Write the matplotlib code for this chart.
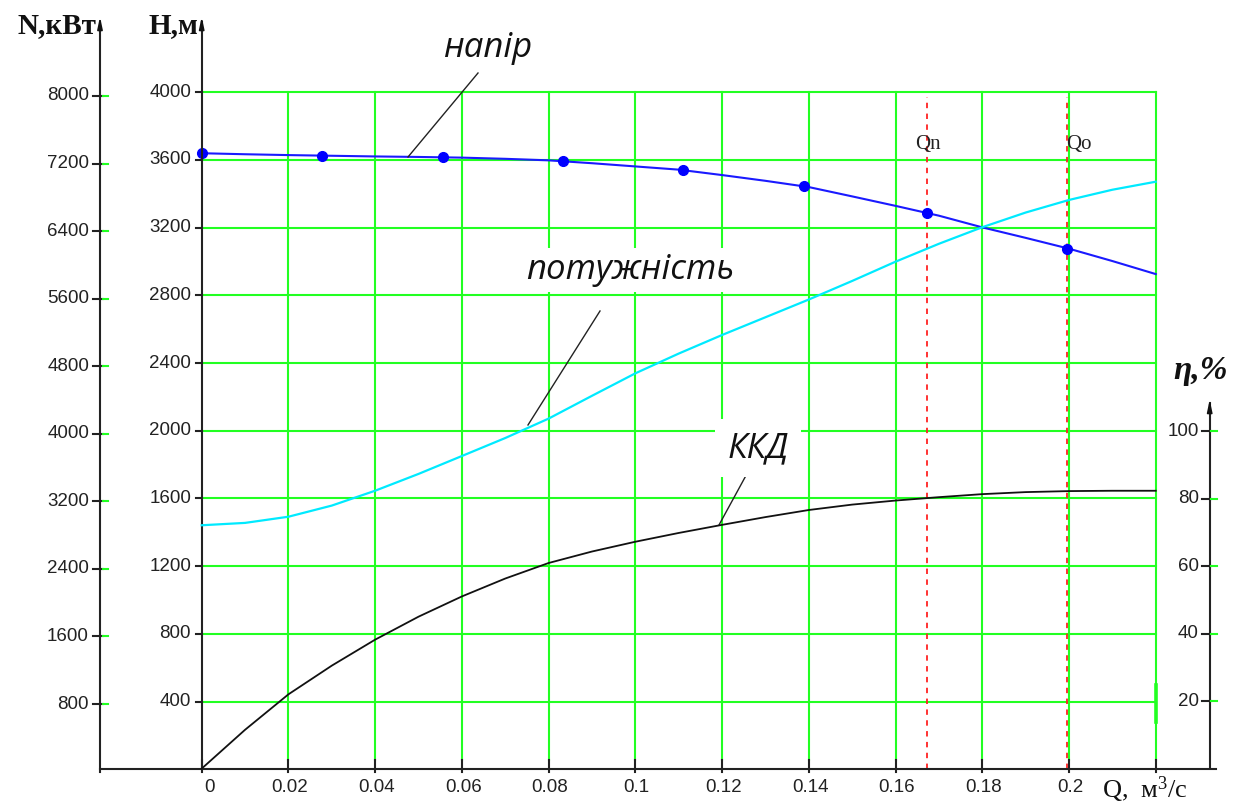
import matplotlib
matplotlib.use("Agg")
import matplotlib.pyplot as plt

plt.rcParams["mathtext.fontset"] = "custom"
plt.rcParams["mathtext.rm"] = "Liberation Serif"
plt.rcParams["mathtext.it"] = "Liberation Serif:italic"

# ---------------- data ----------------
q = [0.00, 0.01, 0.02, 0.03, 0.04, 0.05, 0.06, 0.07, 0.08, 0.09, 0.10, 0.11,
     0.12, 0.13, 0.14, 0.15, 0.16, 0.17, 0.18, 0.19, 0.20, 0.21, 0.22]
head_h = [3640, 3634, 3629, 3625, 3621, 3618, 3614, 3607, 3598, 3581, 3562, 3543,
          3511, 3477, 3440, 3385, 3329, 3271, 3202, 3140, 3076, 3003, 2926]
power_n = [2917, 2945, 3018, 3150, 3326, 3525, 3737, 3950, 4180, 4450, 4716, 4950,
           5170, 5380, 5590, 5810, 6038, 6250, 6446, 6620, 6769, 6890, 6985]
eff = [0, 11.5, 22, 30.5, 38.2, 45, 51, 56.3, 60.9, 64.3, 67.2, 69.8,
       72.2, 74.5, 76.6, 78.2, 79.4, 80.4, 81.3, 81.9, 82.2, 82.3, 82.3]

head_dot_q = [0.0, 0.0278, 0.0556, 0.0833, 0.1111, 0.1389, 0.1672, 0.1996]
head_dot_h = [3640, 3626, 3616, 3594, 3541, 3446, 3289, 3076]

q_n = 0.1672
q_o = 0.1996

x_ticks = [0, 0.02, 0.04, 0.06, 0.08, 0.10, 0.12, 0.14, 0.16, 0.18, 0.20, 0.22]
x_tick_labels = ["0", "0.02", "0.04", "0.06", "0.08", "0.1", "0.12", "0.14",
                 "0.16", "0.18", "0.2", ""]
h_ticks = [400, 800, 1200, 1600, 2000, 2400, 2800, 3200, 3600, 4000]
n_ticks = [800, 1600, 2400, 3200, 4000, 4800, 5600, 6400, 7200, 8000]
eff_ticks = [20, 40, 60, 80, 100]

# ---------------- figure ----------------
W, H = 1251, 809
fig = plt.figure(figsize=(W / 100, H / 100), dpi=100)
fig.patch.set_facecolor("white")

# pixel geometry of the reference
x0_px, xs = 201.7, 4336.5          # Q=0 pixel, px per unit Q
h0_up, hs = 809 - 769.3, 0.16925    # H=0 (from bottom), px per metre
n0_up, ns = 809 - 771.6, 0.08445    # N=0, px per kW
e0_up, es = 809 - 768.6, 3.376      # eta=0, px per %

ax = fig.add_axes([0, 0, 1, 1])
ax.set_xlim(-x0_px / xs, (W - x0_px) / xs)
ax.set_ylim(-h0_up / hs, (H - h0_up) / hs)
ax.axis("off")

axn = ax.twinx()
axn.set_ylim(-n0_up / ns, (H - n0_up) / ns)
axn.axis("off")
axe = ax.twinx()
axe.set_ylim(-e0_up / es, (H - e0_up) / es)
axe.axis("off")

def qx(px):
    return (px - x0_px) / xs

def hy(py):
    return (809 - py - h0_up) / hs

GREEN = "#22ff22"
tick_font = dict(family="Liberation Sans", fontsize=13.5, color="#222222")
serif = "Liberation Serif"

# grid
for xv in x_ticks[1:]:
    ax.plot([xv, xv], [hy(760), 4000], color=GREEN, lw=1.5, zorder=1)
for hv in h_ticks:
    ax.plot([0, 0.22], [hv, hv], color=GREEN, lw=1.5, zorder=1)
# green artefact segment at right edge
ax.plot([0.22, 0.22], [hy(722), hy(685)], color=GREEN, lw=2.6, zorder=1)

# axes lines
x_n_axis = qx(100)
x_e_axis = qx(1209.7)
ax.plot([x_n_axis, qx(1216)], [0, 0], color="#222222", lw=1.5, zorder=4)
ax.plot([0, 0], [0, hy(22)], color="#222222", lw=1.5, zorder=4)
ax.plot([x_n_axis, x_n_axis], [hy(772), hy(22)], color="#222222", lw=1.5, zorder=4)
ax.plot([x_e_axis, x_e_axis], [hy(768), hy(403)], color="#222222", lw=1.5, zorder=4)
# arrow heads
for xa, ytop in [(0, 14), (x_n_axis, 14), (x_e_axis, 397)]:
    ax.annotate("", xy=(xa, hy(ytop)), xytext=(xa, hy(ytop + 18)),
                arrowprops=dict(arrowstyle="-|>,head_width=0.15,head_length=0.7",
                                color="#111111", lw=1.2), zorder=5)

# x ticks and labels
for xv, lab in zip(x_ticks, x_tick_labels):
    ax.plot([xv, xv], [hy(772), hy(760)], color="#222222", lw=1.5, zorder=4)
    if lab:
        ax.text(xv + (qx(209) if lab == "0" else qx(203)), hy(788), lab,
                ha="center", va="center", **tick_font)

# H ticks
for hv in h_ticks:
    ax.plot([qx(196), 0], [hv, hv], color="#222222", lw=1.5, zorder=4)
    ax.text(qx(191), hv, f"{hv}", ha="right", va="center", **tick_font)

# N ticks
for nv in n_ticks:
    axn.plot([qx(93), qx(103)], [nv, nv], color="#222222", lw=1.5, zorder=4)
    axn.plot([qx(103), qx(108)], [nv, nv], color=GREEN, lw=1.5, zorder=4)
    axn.text(qx(89), nv, f"{nv}", ha="right", va="center", **tick_font)

# eta ticks
for ev in eff_ticks:
    axe.plot([qx(1202), qx(1211)], [ev, ev], color="#222222", lw=1.5, zorder=4)
    axe.plot([qx(1211), qx(1217)], [ev, ev], color=GREEN, lw=1.5, zorder=4)
    axe.text(qx(1199), ev, f"{ev}", ha="right", va="center", **tick_font)

# axis titles
ax.text(qx(96), hy(26), "N,кВт", ha="right", va="center",
        family=serif, fontsize=21, fontweight="bold", color="#111111")
ax.text(qx(198), hy(26), "H,м", ha="right", va="center",
        family=serif, fontsize=21, fontweight="bold", color="#111111")
ax.text(qx(1102), hy(790), "Q,  м$^{3}$/с", ha="left", va="center",
        family=serif, fontsize=19, color="#111111")
ax.text(qx(1201), hy(371), "η,%", ha="center", va="center",
        family=serif, fontsize=24, fontweight="bold", fontstyle="italic",
        color="#111111")

# red dashed Qn / Qo lines
for qv in (q_n, q_o):
    ax.plot([qv, qv], [0, hy(97)], color="#ff2222", lw=1.3,
            linestyle=(0, (3, 3)), zorder=2)
ax.text(qx(928), hy(145), "Qn", ha="center", va="center",
        family=serif, fontsize=15, color="#222222", zorder=6)
ax.text(qx(1079), hy(145), "Qo", ha="center", va="center",
        family=serif, fontsize=15, color="#222222", zorder=6)

# curves
ax.plot(q, head_h, color="#1a1aff", lw=1.5, zorder=3)
ax.plot(head_dot_q, head_dot_h, linestyle="none", marker="o", ms=7,
        color="#0000ff", zorder=3)
axn.plot(q, power_n, color="#00eaff", lw=1.6, zorder=3)
axe.plot(q, eff, color="#111111", lw=1.3, zorder=3)

# curve labels with leader lines
lab_font = dict(family="Open Sans", fontstyle="italic", fontsize=25,
                color="#111111")
box = dict(boxstyle="square,pad=0.15", facecolor="white", edgecolor="none")
ax.plot([qx(478), qx(408)], [hy(73), hy(157)], color="#222222", lw=1.0, zorder=5)
ax.text(qx(488), hy(48), "напір", ha="center", va="center", bbox=box,
        zorder=6, **lab_font)
ax.plot([qx(600), qx(528)], [hy(311), hy(425)], color="#222222", lw=1.0, zorder=5)
ax.text(qx(630), hy(270), "потужність", ha="center", va="center", bbox=box,
        zorder=6, **lab_font)
ax.plot([qx(749), qx(719)], [hy(470), hy(525)], color="#222222", lw=1.0, zorder=5)
ax.text(qx(758), hy(448), "ККД", ha="center", va="center",
        bbox=dict(boxstyle="square,pad=0.35", facecolor="white", edgecolor="none"),
        zorder=6, **lab_font)

fig.savefig("out.png", dpi=100, facecolor="white")
